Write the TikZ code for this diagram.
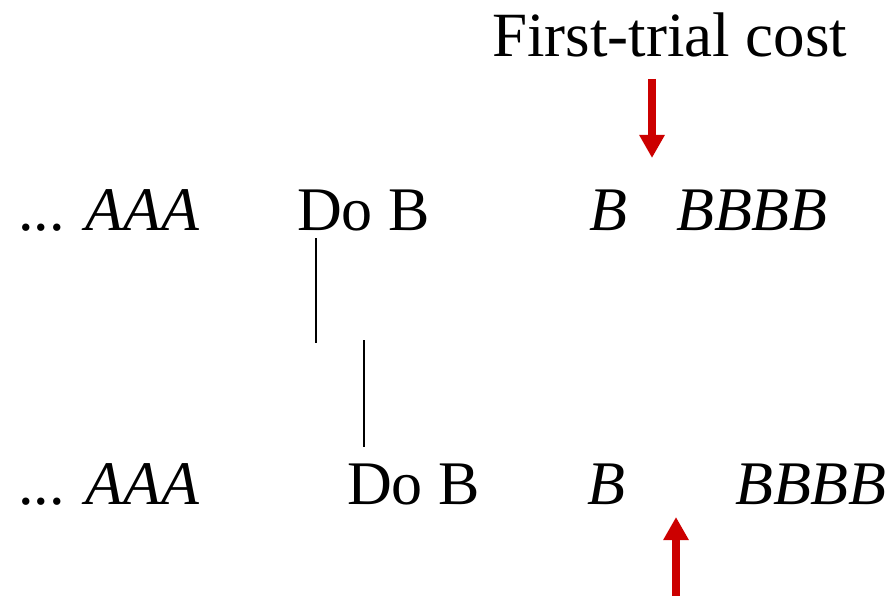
\documentclass[tikz,border=0pt]{standalone}
\usepackage{fontspec}
\setmainfont{Liberation Serif}
\usetikzlibrary{arrows.meta}
\definecolor{arrowred}{RGB}{204,0,0}
\begin{document}
\begin{tikzpicture}[x=1pt,y=-1pt,
  txt/.style={anchor=base west,inner sep=0pt,font=\fontsize{62}{70}\selectfont},
  ttl/.style={anchor=base west,inner sep=0pt,font=\fontsize{63}{72}\selectfont},
  redarrow/.style={draw=arrowred,line width=8pt,-{Triangle[width=24pt,length=23pt,fill=arrowred]}},
  tick/.style={draw=black,line width=2pt}]
\useasboundingbox (0,0) rectangle (893,596);
\node[ttl] (title) at (492,57) {First-trial cost};
% row 1
\node[txt] (r1a) at (18,230) {... \textit{AAA}};
\node[txt] (r1b) at (297,230) {Do B};
\node[txt] (r1c) at (589,230) {\textit{B}};
\node[txt] (r1d) at (676,230) {\textit{BBBB}};
% row 2
\node[txt] (r2a) at (18,504) {... \textit{AAA}};
\node[txt] (r2b) at (347,504) {Do B};
\node[txt] (r2c) at (587,504) {\textit{B}};
\node[txt] (r2d) at (735,504) {\textit{BBBB}};
% ticks
\coordinate (l1a) at (316,238);
\coordinate (l1b) at (316,343);
\coordinate (l2a) at (364,340);
\coordinate (l2b) at (364,447);
\draw[tick] (l1a) -- (l1b);
\draw[tick] (l2a) -- (l2b);
% arrows
\coordinate (d1) at (652,79);
\coordinate (d2) at (652,158);
\coordinate (u1) at (676,596);
\coordinate (u2) at (676,517);
\draw[redarrow] (d1) -- (d2);
\draw[redarrow] (u1) -- (u2);
\end{tikzpicture}
\end{document}
